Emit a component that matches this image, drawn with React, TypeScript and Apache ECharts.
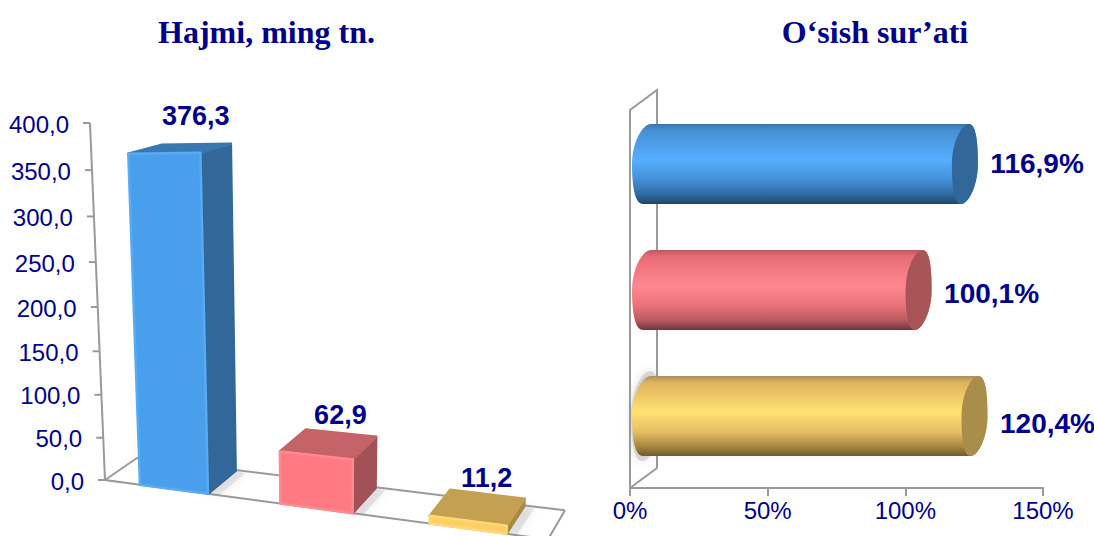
import React, { useEffect, useRef } from "react";
import * as echarts from "echarts";

const titles = ["Hajmi, ming tn.", "O‘sish sur’ati"];
const categories = ["1", "2", "3"];
const volumeValues = [376.3, 62.9, 11.2];
const volumeLabels = ["376,3", "62,9", "11,2"];
const growthValues = [116.9, 100.1, 120.4];
const growthLabels = ["116,9%", "100,1%", "120,4%"];
const volumeTicks = [400, 350, 300, 250, 200, 150, 100, 50, 0];
const volumeTickLabels = ["400,0", "350,0", "300,0", "250,0", "200,0", "150,0", "100,0", "50,0", "0,0"];
const growthTickLabels: Record<number, string> = { 0: "0%", 50: "50%", 100: "100%", 150: "150%" };

const NAVY = "#00008B";
const AXIS = "#9A9A9A";
const SANS = "Liberation Sans";

const frontCols = ["#4A9FEC", "#FF7A82", "#FFCF62"];
const sideCols = ["#316899", "#A05257", "#A68A45"];
const topCols = ["#3878B0", "#C46368", "#C4A050"];
const edgeCols = ["#58AAF2", "#FF8A90", "#FFD878"];
const capCols = ["#316899", "#A85558", "#A98D4B"];
const barStops = [
  ["#3A74AA", "#4690D4", "#55AEFF", "#438FD6", "#2F6BA3", "#1F4468"],
  ["#B85A60", "#E86C74", "#FF8890", "#E87078", "#B85A60", "#6E3438"],
  ["#A8905A", "#DDB25C", "#FFE272", "#E4BE64", "#A8863E", "#6E5A30"],
];

// Perspective helpers for the pseudo-3D column chart
const warpH = (px: number, full: number) => {
  const t = px / full;
  return (full * t * (1 - 0.0598)) / (1 - 0.0598 * t);
};
const frame = (api: any) => {
  const c0 = api.coord([0, 0]);
  const band = api.size([1, 0])[0];
  const full = c0[1] - api.coord([0, 400])[1];
  return {
    y0: c0[1],
    full,
    band,
    c0: c0[0],
    left: c0[0] - band / 2 + 4.5,
    right: c0[0] + band * 2.5 + 6.5,
  };
};
const proj = (f: any, u: number, h: number): [number, number] => {
  const lean = -0.042 + 0.00019 * (u - f.left);
  return [u + h * lean, f.y0 + (u - f.left) * 0.134 - h];
};
const depth = (f: any, u: number, h: number, k = 1): [number, number] => {
  const d = u - f.left;
  return [(32 - d * 0.0339) * (1 + 0.0003 * h) * k, (-22 - d * 0.0158) * (1 - h / 560) * k];
};
const add = (a: number[], b: number[]): [number, number] => [a[0] + b[0], a[1] + b[1]];

const renderFloor = (_: any, api: any) => {
  const f = frame(api);
  const a = proj(f, f.left, 0);
  const b = proj(f, f.right, 0);
  const aBack = add(a, depth(f, f.left, 0));
  const bBack = add(b, depth(f, f.right, 0));
  return {
    type: "polyline",
    shape: { points: [bBack.slice(), aBack.slice(), a.slice(), b.slice(), bBack.slice()] },
    style: { stroke: AXIS, lineWidth: 2, fill: "none" },
  };
};

const renderTick = (params: any, api: any) => {
  const f = frame(api);
  const i = params.dataIndex;
  const h = warpH(f.y0 - api.coord([0, api.value(0)])[1], f.full);
  const p = proj(f, f.left, h);
  return {
    type: "group",
    children: [
      { type: "line", shape: { x1: p[0] - 7, y1: p[1], x2: p[0], y2: p[1] }, style: { stroke: AXIS, lineWidth: 2 } },
      {
        type: "text",
        style: {
          x: p[0] - 21,
          y: p[1] + 1,
          text: volumeTickLabels[i],
          fill: NAVY,
          font: `24px "${SANS}"`,
          textAlign: "right",
          textVerticalAlign: "middle",
        },
      },
    ],
  };
};

const renderAxisLine = (_: any, api: any) => {
  const f = frame(api);
  const p0 = proj(f, f.left, 0);
  const p1 = proj(f, f.left, f.full);
  return {
    type: "line",
    shape: { x1: p0[0], y1: p0[1], x2: p1[0], y2: p1[1] },
    style: { stroke: AXIS, lineWidth: 2 },
  };
};

const renderColumn = (params: any, api: any) => {
  const f = frame(api);
  const i = params.dataIndex;
  const c = api.coord([i, api.value(1)]);
  const base = api.coord([i, 0]);
  const bow = (base[0] - f.c0 - f.band) / f.band;
  const uc = base[0] - 4.5 * (1 - bow * bow);
  const w = 68 + (uc - f.c0) * 0.03;
  const u0 = uc - w / 2;
  const u1 = uc + w / 2;
  const lin = warpH(base[1] - c[1], f.full) - 2;
  const h0 = lin * (1 + (u0 - f.c0) * 0.00015);
  const h1 = lin * (1 + (u1 - f.c0) * 0.00015) * 1.02;
  const A = proj(f, u0, 0);
  const B = proj(f, u1, 0);
  const C = proj(f, u1, h1);
  const D = proj(f, u0, h0);
  const Bb = add(B, depth(f, u1, 0, 0.97));
  const Cb = add(C, depth(f, u1, h1, 0.97));
  const Db = add(D, depth(f, u0, h0, 0.97));
  const sx = 10;
  const labelPos = add([(C[0] + D[0]) / 2, (Cb[1] + Db[1]) / 2], [depth(f, u1, h1)[0], -16 - h1 * 0.036]);
  return {
    type: "group",
    children: [
      {
        type: "polygon",
        shape: { points: [B, Bb, [Bb[0] + sx, Bb[1] + 2], [B[0] + sx, B[1] + 2]] },
        style: { fill: "#8c8c8c", opacity: 0.18, shadowBlur: 8, shadowColor: "#8c8c8c" },
      },
      {
        type: "polygon",
        shape: { points: [B, C, Cb, Bb] },
        style: { fill: sideCols[i], stroke: sideCols[i], lineWidth: 2.5, lineJoin: "round" },
      },
      {
        type: "polygon",
        shape: { points: [D, C, Cb, Db] },
        style: { fill: topCols[i], stroke: topCols[i], lineWidth: 2.5, lineJoin: "round" },
      },
      {
        type: "polygon",
        shape: { points: [A, B, C, D] },
        style: { fill: frontCols[i], stroke: edgeCols[i], lineWidth: 2.5, lineJoin: "round" },
      },
      {
        type: "text",
        style: {
          x: labelPos[0],
          y: labelPos[1],
          text: volumeLabels[i],
          fill: NAVY,
          font: `bold 27px "${SANS}"`,
          textAlign: "center",
          textVerticalAlign: "middle",
        },
      },
    ],
  };
};

const capPath = (cx: number, cy: number, rx: number, ry: number, s: number) => {
  const k = 0.5523;
  const t = [cx + s, cy - ry];
  const r = [cx + rx, cy];
  const b = [cx - s, cy + ry];
  const l = [cx - rx, cy];
  return (
    `M${t[0]} ${t[1]}` +
    `C${t[0] + rx * k} ${t[1]} ${r[0]} ${cy - ry * k} ${r[0]} ${cy}` +
    `C${r[0]} ${cy + ry * k} ${b[0] + rx * k} ${b[1]} ${b[0]} ${b[1]}` +
    `C${b[0] - rx * k} ${b[1]} ${l[0]} ${cy + ry * k} ${l[0]} ${cy}` +
    `C${l[0]} ${cy - ry * k} ${t[0] - rx * k} ${t[1]} ${t[0]} ${t[1]}Z`
  );
};

const renderWall = (_: any, api: any) => {
  const p = api.coord([0, 0]);
  const x = p[0];
  const band = api.size([0, 1])[1];
  const top = p[1] - band / 2;
  const bot = top + band * 3;
  const dx = 27;
  const dy = -20;
  return {
    type: "polyline",
    shape: {
      points: [
        [x, bot],
        [x, top],
        [x + dx, top + dy],
        [x + dx, bot + dy],
        [x, bot],
      ],
    },
    style: { stroke: AXIS, lineWidth: 2, fill: "none" },
  };
};

const renderCylinder = (params: any, api: any) => {
  const i = params.dataIndex;
  const band = api.size([0, 1])[1];
  const end = api.coord([api.value(1), i]);
  const start = api.coord([0, i]);
  const cy = end[1] - band * 0.071;
  const ry = band * 0.318;
  const xe = end[0] + 13;
  const xs = start[0] + 17;
  const s = 4;
  const rxE = 13;
  const rxS = 15;
  const k = 0.5523;
  const body =
    `M${xs + s} ${cy - ry}L${xe + s} ${cy - ry}` +
    `C${xe + s + rxE * k} ${cy - ry} ${xe + rxE} ${cy - ry * k} ${xe + rxE} ${cy}` +
    `C${xe + rxE} ${cy + ry * k} ${xe - s + rxE * k} ${cy + ry} ${xe - s} ${cy + ry}` +
    `L${xs - s} ${cy + ry}` +
    `C${xs - s - rxS * k} ${cy + ry} ${xs - rxS} ${cy + ry * k} ${xs - rxS} ${cy}` +
    `C${xs - rxS} ${cy - ry * k} ${xs + s - rxS * k} ${cy - ry} ${xs + s} ${cy - ry}Z`;
  const st = barStops[i];
  const children: any[] = [];
  if (i === 2) {
    children.push({
      type: "path",
      shape: { pathData: capPath(xs - 1, cy, rxS, ry + 5, s) },
      style: { fill: "#9a9a9a", opacity: 0.28, shadowBlur: 10, shadowColor: "#8a8a8a" },
    });
  }
  children.push(
    {
      type: "path",
      shape: { pathData: body },
      style: {
        fill: new echarts.graphic.LinearGradient(0, 0, 0, 1, [
          { offset: 0, color: st[0] },
          { offset: 0.08, color: st[1] },
          { offset: 0.45, color: st[2] },
          { offset: 0.7, color: st[3] },
          { offset: 0.88, color: st[4] },
          { offset: 1, color: st[5] },
        ]),
      },
    },
    {
      type: "path",
      shape: { pathData: capPath(xe, cy, rxE, ry, s) },
      style: { fill: capCols[i] },
    },
    {
      type: "text",
      style: {
        x: xe + rxE + 12.5,
        y: cy - 1 + i * 4,
        text: growthLabels[i],
        fill: NAVY,
        font: `bold 28px "${SANS}"`,
        textAlign: "left",
        textVerticalAlign: "middle",
      },
    }
  );
  return { type: "group", children };
};

const titleStyle = {
  color: NAVY,
  fontFamily: "Liberation Serif",
  fontWeight: "bold" as const,
  fontSize: 32,
};

const option: any = {
  animation: false,
  backgroundColor: "#ffffff",
  title: [
    { text: titles[0], left: 261.5, top: 11, textAlign: "center", textStyle: titleStyle },
    { text: titles[1], left: 870, top: 11, textAlign: "center", textStyle: titleStyle },
  ],
  grid: [
    { left: 100.5, width: 441, top: 123, height: 357 },
    { left: 630, width: 413, top: 110, height: 378 },
  ],
  xAxis: [
    { gridIndex: 0, type: "category", data: categories, show: false },
    {
      gridIndex: 1,
      type: "value",
      min: 0,
      max: 150,
      interval: 50,
      splitLine: { show: false },
      axisLine: { show: true, lineStyle: { color: AXIS, width: 2 } },
      axisTick: { show: true, length: 8, lineStyle: { color: AXIS, width: 2 } },
      axisLabel: {
        color: NAVY,
        fontFamily: SANS,
        fontSize: 24,
        margin: 10,
        formatter: (v: number) => growthTickLabels[v],
      },
    },
  ],
  yAxis: [
    { gridIndex: 0, type: "value", min: 0, max: 400, interval: 50, show: false },
    { gridIndex: 1, type: "category", inverse: true, data: categories, show: false },
  ],
  series: [
    {
      type: "custom",
      xAxisIndex: 0,
      yAxisIndex: 0,
      data: [[0, 0]],
      z: 1,
      renderItem: renderFloor,
      silent: true,
    },
    {
      type: "custom",
      xAxisIndex: 0,
      yAxisIndex: 0,
      data: [[0, 0]],
      z: 1,
      renderItem: renderAxisLine,
      silent: true,
    },
    {
      type: "custom",
      xAxisIndex: 0,
      yAxisIndex: 0,
      data: volumeTicks.map((v) => [v]),
      encode: { y: 0 },
      z: 2,
      renderItem: renderTick,
      silent: true,
    },
    {
      type: "custom",
      xAxisIndex: 0,
      yAxisIndex: 0,
      data: volumeValues.map((v, i) => [i, v]),
      encode: { x: 0, y: 1 },
      z: 3,
      renderItem: renderColumn,
    },
    {
      type: "custom",
      xAxisIndex: 1,
      yAxisIndex: 1,
      data: [[0, 0]],
      z: 1,
      renderItem: renderWall,
      silent: true,
    },
    {
      type: "custom",
      xAxisIndex: 1,
      yAxisIndex: 1,
      data: growthValues.map((v, i) => [i, v]),
      encode: { x: 1, y: 0 },
      z: 3,
      renderItem: renderCylinder,
    },
  ],
};

export default function App() {
  const ref = useRef<HTMLDivElement>(null);
  useEffect(() => {
    const chart = echarts.init(ref.current!, null, { renderer: "svg" });
    chart.setOption(option);
    return () => chart.dispose();
  }, []);
  return (
    <div
      ref={ref}
      style={{ position: "fixed", left: 0, top: 0, width: 1094, height: 536, overflow: "hidden" }}
    />
  );
}
